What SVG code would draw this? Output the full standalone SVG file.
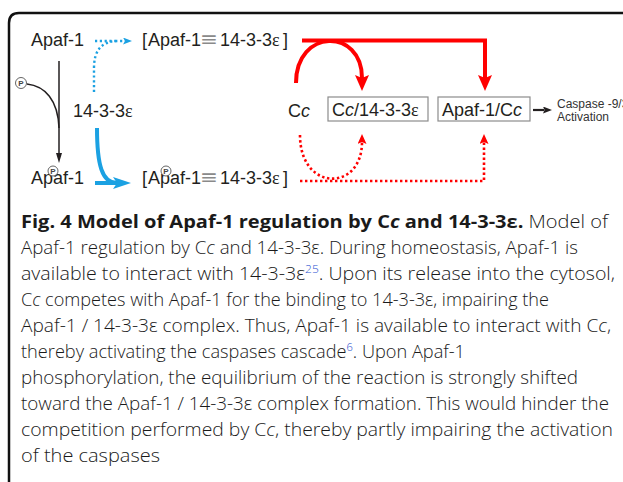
<svg xmlns="http://www.w3.org/2000/svg" width="623" height="482" viewBox="0 0 623 482">
  <style>
    .lbl { font-family: "Liberation Sans", Arial, sans-serif; font-size: 18px; fill: #231f20; }
    .eps { font-family: "Liberation Serif", "Times New Roman", serif; }
    .it { font-style: italic; }
    .equiv { font-family: "DejaVu Sans", sans-serif; fill: #8a8a8a; }
    .box { fill: #ffffff; stroke: #8c8c8c; stroke-width: 1.2; }
    .phos circle { fill: #ffffff; stroke: #555555; stroke-width: 0.9; }
    .phos text { font-family: "Liberation Sans", Arial, sans-serif; font-size: 8px; font-weight: bold; fill: #444444; text-anchor: middle; }
    .red { fill: none; stroke: #ff0000; stroke-width: 4; }
    .red-dot { fill: none; stroke: #ff0000; stroke-width: 2.6; stroke-dasharray: 2.4 2.6; }
    .blue { fill: none; stroke: #1ba1e2; stroke-width: 4; }
    .blue-dot { fill: none; stroke: #1ba1e2; stroke-width: 2.4; stroke-dasharray: 2.2 2.6; }
    .blk { fill: none; stroke: #231f20; stroke-width: 1.5; }
    .cap { font-family: "Open Sans", "Noto Sans", sans-serif; font-size: 18px; font-weight: 300; fill: #1a1a1a; }
    .capb { font-weight: 700; fill: #1a1a1a; }
    .ref { fill: #2a52d0; font-size: 11px; }
    .small { font-family: "Liberation Sans", Arial, sans-serif; font-size: 12px; fill: #333333; }
  </style>
  <defs>
    <marker id="head-red" markerUnits="userSpaceOnUse" markerWidth="17" markerHeight="15" refX="3" refY="7" orient="auto">
      <path d="M0,0 L16,7 L0,14 L3,7 Z" fill="#ff0000"/>
    </marker>
    <marker id="head-red-sm" markerUnits="userSpaceOnUse" markerWidth="11" markerHeight="10" refX="2" refY="4.5" orient="auto">
      <path d="M0,0 L10,4.5 L0,9 L2,4.5 Z" fill="#ff0000"/>
    </marker>
    <marker id="head-blue" markerUnits="userSpaceOnUse" markerWidth="19" markerHeight="13" refX="4" refY="6" orient="auto">
      <path d="M0,0 L18,6 L0,12 L4,6 Z" fill="#1ba1e2"/>
    </marker>
    <marker id="head-blue-sm" markerUnits="userSpaceOnUse" markerWidth="10" markerHeight="8" refX="2" refY="3.5" orient="auto">
      <path d="M0,0 L9,3.5 L0,7 L2,3.5 Z" fill="#1ba1e2"/>
    </marker>
    <marker id="head-blk" markerUnits="userSpaceOnUse" markerWidth="11" markerHeight="7" refX="0" refY="3" orient="auto">
      <path d="M0,0 L10,3 L0,6 Z" fill="#231f20"/>
    </marker>
    <marker id="head-blk-lg" markerUnits="userSpaceOnUse" markerWidth="10" markerHeight="8" refX="1" refY="3.5" orient="auto">
      <path d="M0,0 L9,3.5 L0,7 L1.5,3.5 Z" fill="#231f20"/>
    </marker>
  </defs>

  <!-- figure frame -->
  <path d="M9 482 V23 Q9 13 19 13 H623" fill="none" stroke="#111111" stroke-width="2.5"/>

  <!-- connectors -->
  <g id="connectors">
    <!-- phosphorylation of Apaf-1 -->
    <path class="blk" d="M59 61 V153" marker-end="url(#head-blk)"/>
    <path class="blk" d="M27 84 C45 86 58 100 59 128"/>
    <!-- Apaf-1 + 14-3-3e (reversible, dotted) -->
    <path class="blue-dot" d="M95 41 H118"/>
    <path class="blue-dot" d="M94 92 V68 Q94 41 118 41 H125" marker-end="url(#head-blue-sm)"/>
    <!-- phospho-Apaf-1 + 14-3-3e (favoured) -->
    <path class="blue" d="M95 183 H117"/>
    <path class="blue" d="M97 128 C97 165 102 183 117 183" marker-end="url(#head-blue)"/>
    <!-- Cc displaces 14-3-3e -->
    <path class="red" d="M302 40.5 H485 V78" marker-end="url(#head-red)"/>
    <path class="red" d="M296 83 C296 28 362 28 362 78" marker-end="url(#head-red)"/>
    <!-- weakened competition from the phospho complex -->
    <path class="red-dot" d="M300 135 C300 192 362 192 362 142" marker-end="url(#head-red-sm)"/>
    <path class="red-dot" d="M300 181 H484 V142" marker-end="url(#head-red-sm)"/>
    <!-- caspase activation -->
    <path d="M533 110 H544" stroke="#231f20" stroke-width="2.2" fill="none" marker-end="url(#head-blk-lg)"/>
  </g>

  <!-- nodes -->
  <g id="apaf1">
    <text class="lbl" x="31" y="46">Apaf-1</text>
  </g>
  <g id="complex">
    <text class="lbl" x="142" y="46" font-size="20">[</text>
    <text class="lbl" x="148" y="46">Apaf-1</text>
    <text class="equiv" x="200" y="46" font-size="20" textLength="18" lengthAdjust="spacingAndGlyphs">≡</text>
    <text class="lbl" x="220" y="46">14-3-3<tspan class="eps">ε</tspan></text>
    <text class="lbl" x="283" y="46" font-size="20">]</text>
  </g>
  <g id="phospho-label" class="phos">
    <circle cx="21" cy="83" r="5.5"/>
    <text x="21" y="86">P</text>
  </g>
  <g id="protein-14-3-3">
    <text class="lbl" x="73" y="117">14-3-3<tspan class="eps">ε</tspan></text>
  </g>
  <g id="phospho-apaf1">
    <text class="lbl" x="31" y="184">Apaf-1</text>
    <g class="phos">
      <circle cx="53" cy="171" r="5"/>
      <text x="53" y="174">P</text>
    </g>
  </g>
  <g id="phospho-complex">
    <text class="lbl" x="142" y="184" font-size="20">[</text>
    <text class="lbl" x="148" y="184">Apaf-1</text>
    <text class="equiv" x="200" y="184" font-size="20" textLength="18" lengthAdjust="spacingAndGlyphs">≡</text>
    <text class="lbl" x="220" y="184">14-3-3<tspan class="eps">ε</tspan></text>
    <text class="lbl" x="283" y="184" font-size="20">]</text>
    <g class="phos">
      <circle cx="166" cy="171" r="5"/>
      <text x="166" y="174">P</text>
    </g>
  </g>
  <g id="cyt-c">
    <text class="lbl" x="288" y="117">C<tspan class="it">c</tspan></text>
  </g>
  <g id="cc-14-3-3">
    <rect class="box" x="328" y="97" width="100" height="24"/>
    <text class="lbl" x="332" y="116" font-size="19">C<tspan class="it">c</tspan>/14-3-3<tspan class="eps">ε</tspan></text>
  </g>
  <g id="apaf1-cc">
    <rect class="box" x="438" y="97" width="92" height="24"/>
    <text class="lbl" x="442" y="116" font-size="19">Apaf-1/C<tspan class="it">c</tspan></text>
  </g>
  <g id="caspase">
    <text class="small" x="557" y="108">Caspase -9/3</text>
    <text class="small" x="557" y="121">Activation</text>
  </g>

  <!-- caption -->
  <g id="caption" class="cap">
    <text x="21" y="228" textLength="587" lengthAdjust="spacingAndGlyphs"><tspan class="capb">Fig. 4 Model of Apaf-1 regulation by C<tspan font-style="italic">c</tspan> and 14-3-3ε.</tspan> Model of</text>
    <text x="21" y="254" textLength="557" lengthAdjust="spacingAndGlyphs">Apaf-1 regulation by C<tspan font-style="italic">c</tspan> and 14-3-3ε. During homeostasis, Apaf-1 is</text>
    <text x="21" y="280" textLength="594" lengthAdjust="spacingAndGlyphs">available to interact with 14-3-3ε<tspan class="ref" dy="-7">25</tspan><tspan dy="7">. Upon its release into the cytosol,</tspan></text>
    <text x="21" y="306" textLength="528" lengthAdjust="spacingAndGlyphs">C<tspan font-style="italic">c</tspan> competes with Apaf-1 for the binding to 14-3-3ε, impairing the</text>
    <text x="21" y="332" textLength="590" lengthAdjust="spacingAndGlyphs">Apaf-1 / 14-3-3ε complex. Thus, Apaf-1 is available to interact with C<tspan font-style="italic">c</tspan>,</text>
    <text x="21" y="358" textLength="444" lengthAdjust="spacingAndGlyphs">thereby activating the caspases cascade<tspan class="ref" dy="-7">6</tspan><tspan dy="7">. Upon Apaf-1</tspan></text>
    <text x="21" y="384" textLength="557" lengthAdjust="spacingAndGlyphs">phosphorylation, the equilibrium of the reaction is strongly shifted</text>
    <text x="21" y="410" textLength="588" lengthAdjust="spacingAndGlyphs">toward the Apaf-1 / 14-3-3ε complex formation. This would hinder the</text>
    <text x="21" y="436" textLength="592" lengthAdjust="spacingAndGlyphs">competition performed by C<tspan font-style="italic">c</tspan>, thereby partly impairing the activation</text>
    <text x="21" y="462" textLength="139" lengthAdjust="spacingAndGlyphs">of the caspases</text>
  </g>
</svg>
